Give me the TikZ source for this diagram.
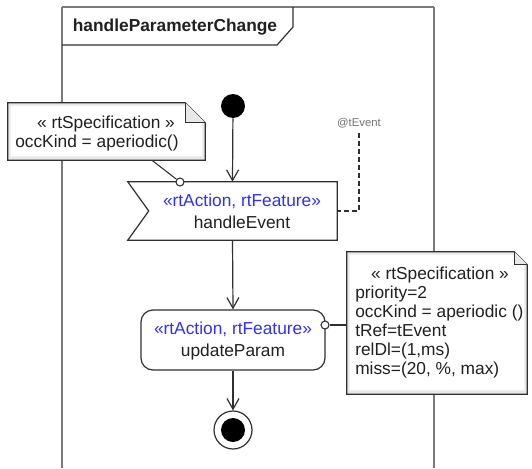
\documentclass[tikz,border=0pt]{standalone}
\usepackage{fontspec}
\setmainfont{Liberation Sans}
\usetikzlibrary{arrows.meta,calc}
\definecolor{ln}{HTML}{303030}
\definecolor{fr}{HTML}{7A7A7A}
\definecolor{st}{HTML}{2F2FFF}
\definecolor{tx}{HTML}{202020}
\definecolor{band}{HTML}{E8E8E8}
\tikzset{
  framev/.style={draw=fr, line width=1.6pt},
  frameh/.style={draw=fr, line width=0.8pt},
  flow/.style={draw=ln, line width=0.9pt, -{Straight Barb[length=8pt,width=9pt,line width=0.9pt]}},
  lbl/.style={font=\fontsize{13}{15}\selectfont, text=tx, inner sep=0pt, anchor=base},
  stereo/.style={lbl, text=st},
  hdr/.style={lbl, font=\fontsize{13}{15}\selectfont\bfseries},
  box/.style={draw=none, rectangle, inner sep=0pt},
  pin/.style={circle, draw=ln, fill=white, line width=0.8pt, minimum size=6pt, inner sep=0pt},
  link/.style={draw=ln, line width=0.8pt},
  dashlink/.style={draw=ln, line width=0.9pt, dash pattern=on 3.5pt off 2.5pt},
}
\begin{document}
\begin{tikzpicture}[x=0.75pt,y=-0.75pt]
\useasboundingbox (0,0) rectangle (532,468);
% frame
\draw[framev] (62,468) -- (62,7);
\draw[frameh] (62,7) -- (434,7);
\draw[framev] (434,7) -- (434,468);
\draw[draw=ln, line width=0.9pt] (62,45) -- (277,45) -- (293,27) -- (293,7);
\node[hdr] (title) at (175,31) {handleParameterChange};

% initial node
\node[circle, fill=black, minimum size=18pt, inner sep=0pt] (init) at (233,106) {};

% handleEvent (accept event action)
\node[box, minimum width=156.75pt, minimum height=43.5pt] (he) at (232.5,211) {};
\draw[draw=ln, fill=white, line width=0.9pt] (he.north west) -- (he.north east) -- (he.south east) -- (he.south west) -- ($(he.west)+(21,0)$) -- cycle;
\node[stereo] (hes) at (242,206) {«rtAction, rtFeature»};
\node[lbl] (het) at (242,228) {handleEvent};

% updateParam action
\node[draw=ln, fill=white, line width=0.9pt, rounded corners=9pt, minimum width=138pt, minimum height=45pt, inner sep=0pt] (up) at (233,340) {};
\node[stereo] (ups) at (233,334) {«rtAction, rtFeature»};
\node[lbl] (upt) at (233,356) {updateParam};

% final node
\node[circle, draw=ln, fill=white, line width=0.9pt, minimum size=28.5pt, inner sep=0pt] (fin) at (233,430) {};
\node[circle, fill=black, minimum size=18pt, inner sep=0pt] (finin) at (233,430) {};

% flows
\draw[flow] (init) -- (he.north);
\draw[flow] (he.south) -- (up.north);
\draw[flow] (up.south) -- (fin);

% left note
\node[box, minimum width=147.75pt, minimum height=42.75pt] (lnote) at (106.5,131.5) {};
\fill[band] (lnote.north west) -- ($(lnote.north east)+(-20,0)$) -- ($(lnote.north east)+(0,20)$) -- (lnote.south east) -- (lnote.south west) -- cycle;
\fill[white] ($(lnote.north west)+(3,3)$) -- ($(lnote.north east)+(-21,3)$) -- ($(lnote.north east)+(-3,21)$) -- ($(lnote.south east)+(-3,-4)$) -- ($(lnote.south west)+(3,-4)$) -- cycle;
\draw[draw=ln, line width=0.9pt] (lnote.north west) -- ($(lnote.north east)+(-20,0)$) -- ($(lnote.north east)+(0,20)$) -- (lnote.south east) -- (lnote.south west) -- cycle;
\draw[draw=ln, fill=band, line width=0.9pt] ($(lnote.north east)+(-20,0)$) -- ($(lnote.north east)+(-20,20)$) -- ($(lnote.north east)+(0,20)$);
\node[lbl] (lnt1) at (106,128) {« rtSpecification »};
\node[lbl, anchor=base west] (lnt2) at (15,147) {occKind = aperiodic()};
\node[pin] (lpin) at (180,182) {};
\draw[link] ($(lnote.south west)!0.73!(lnote.south east)$) -- (lpin);

% @tEvent
\node[font=\fontsize{8.5}{10}\selectfont, text=gray!90!black, inner sep=0pt] (tev) at (359,123) {@tEvent};
\coordinate (tevc) at (359,133);
\draw[dashlink] (tevc) |- (he.east);

% right note
\node[box, minimum width=135pt, minimum height=106.5pt] (rnote) at (437,323) {};
\fill[band] (rnote.north west) -- ($(rnote.north east)+(-13,0)$) -- ($(rnote.north east)+(0,13)$) -- (rnote.south east) -- (rnote.south west) -- cycle;
\fill[white] ($(rnote.north west)+(3,3)$) -- ($(rnote.north east)+(-14,3)$) -- ($(rnote.north east)+(-3,14)$) -- ($(rnote.south east)+(-3,-4)$) -- ($(rnote.south west)+(3,-4)$) -- cycle;
\draw[draw=ln, line width=0.9pt] (rnote.north west) -- ($(rnote.north east)+(-13,0)$) -- ($(rnote.north east)+(0,13)$) -- (rnote.south east) -- (rnote.south west) -- cycle;
\draw[draw=ln, fill=band, line width=0.9pt] ($(rnote.north east)+(-13,0)$) -- ($(rnote.north east)+(-13,13)$) -- ($(rnote.north east)+(0,13)$);
\node[lbl] (rnt1) at (440,279) {« rtSpecification »};
\node[lbl, anchor=base west] (rnt2) at (355,298) {priority=2};
\node[lbl, anchor=base west] (rnt3) at (355,317) {occKind = aperiodic ()};
\node[lbl, anchor=base west] (rnt4) at (355,336) {tRef=tEvent};
\node[lbl, anchor=base west] (rnt5) at (355,355) {relDl=(1,ms)};
\node[lbl, anchor=base west] (rnt6) at (355,374) {miss=(20, \%, max)};
\node[pin] (rpin) at (325,325) {};
\draw[link] (rpin) -- (rnote.west |- rpin);
\end{tikzpicture}
\end{document}
